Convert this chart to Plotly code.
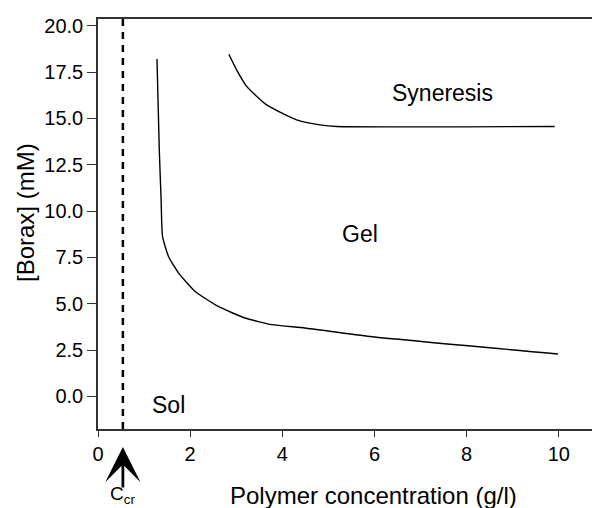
import plotly.graph_objects as go

# Sol-gel boundary (lower curve)
gel_x = [1.28, 1.33, 1.37, 1.40, 1.53, 1.75, 2.11, 2.61, 3.19, 3.77, 4.49, 5.90, 9.98]
gel_y = [18.20, 13.29, 10.59, 8.63, 7.55, 6.65, 5.66, 4.85, 4.23, 3.87, 3.69, 3.23, 2.29]

# Gel-syneresis boundary (upper curve)
syn_x = [2.84, 3.02, 3.23, 3.66, 4.31, 4.82, 5.18, 9.91]
syn_y = [18.46, 17.56, 16.71, 15.73, 14.92, 14.65, 14.56, 14.56]

c_cr = 0.54

x_ticks = [0, 2, 4, 6, 8, 10]
y_ticks = [0.0, 2.5, 5.0, 7.5, 10.0, 12.5, 15.0, 17.5, 20.0]

region_labels = ["Syneresis", "Gel", "Sol"]
region_x = [7.48, 5.68, 1.53]
region_y = [16.37, 8.77, -0.45]

FONT = "Liberation Sans, Arial, Helvetica, sans-serif"

fig = go.Figure()
fig.add_trace(go.Scatter(x=gel_x, y=gel_y, mode="lines",
                         line=dict(color="black", width=1.4, shape="spline", smoothing=0.5),
                         showlegend=False, hoverinfo="skip"))
fig.add_trace(go.Scatter(x=syn_x, y=syn_y, mode="lines",
                         line=dict(color="black", width=1.4, shape="spline", smoothing=0.5),
                         showlegend=False, hoverinfo="skip"))

# dashed critical concentration line
fig.add_shape(type="line", x0=c_cr, x1=c_cr, xref="x", y0=0, y1=1, yref="paper",
              line=dict(color="black", width=2.5, dash="7px,6px"))

for t, x, y in zip(region_labels, region_x, region_y):
    fig.add_annotation(x=x, y=y, xref="x", yref="y", text=t, showarrow=False,
                       xanchor="center", yanchor="middle",
                       font=dict(family=FONT, size=23, color="black"))

# arrow for C_cr
fig.add_annotation(x=c_cr, y=-0.044, xref="x", yref="paper", text="", showarrow=True,
                   ax=0, ay=42, arrowhead=3, arrowsize=2.1, arrowwidth=2.8,
                   arrowcolor="black", standoff=0)
fig.add_annotation(x=c_cr, y=-0.128, xref="x", yref="paper", text="C<sub>cr</sub>",
                   showarrow=False, xanchor="center", yanchor="top",
                   font=dict(family=FONT, size=19, color="black"))

# axis titles
fig.add_annotation(x=0.5575, y=-0.161, xref="paper", yref="paper",
                   text="Polymer concentration (g/l)", showarrow=False,
                   xanchor="center", yanchor="middle",
                   font=dict(family=FONT, size=24, color="black"))
fig.add_annotation(x=-0.148, y=0.529, xref="paper", yref="paper",
                   text="[Borax] (mM)", showarrow=False, textangle=-90,
                   xanchor="center", yanchor="middle",
                   font=dict(family=FONT, size=24, color="black"))

fig.update_layout(
    width=592, height=508,
    margin=dict(l=98, r=0, t=19, b=79),
    paper_bgcolor="white", plot_bgcolor="white",
    font=dict(family=FONT, size=20, color="black"),
    xaxis=dict(range=[0, 10.72], tickvals=x_ticks, ticks="outside", ticklen=6,
               tickwidth=1.2, tickcolor="#333", showline=True, linecolor="#333",
               linewidth=1.5, mirror=True, showgrid=False, zeroline=False,
               tickfont=dict(family=FONT, size=20, color="black")),
    yaxis=dict(range=[-1.76, 20.36], tickvals=y_ticks, tickformat=".1f",
               ticks="outside", ticklen=9, tickwidth=1.2, tickcolor="#333",
               showline=True, linecolor="#333", linewidth=1.5, showgrid=False,
               zeroline=False, tickfont=dict(family=FONT, size=20, color="black")),
)

fig.write_html("out.html", config={"displayModeBar": False},
               post_script="document.body.style.margin='0';document.body.style.overflow='hidden';")
